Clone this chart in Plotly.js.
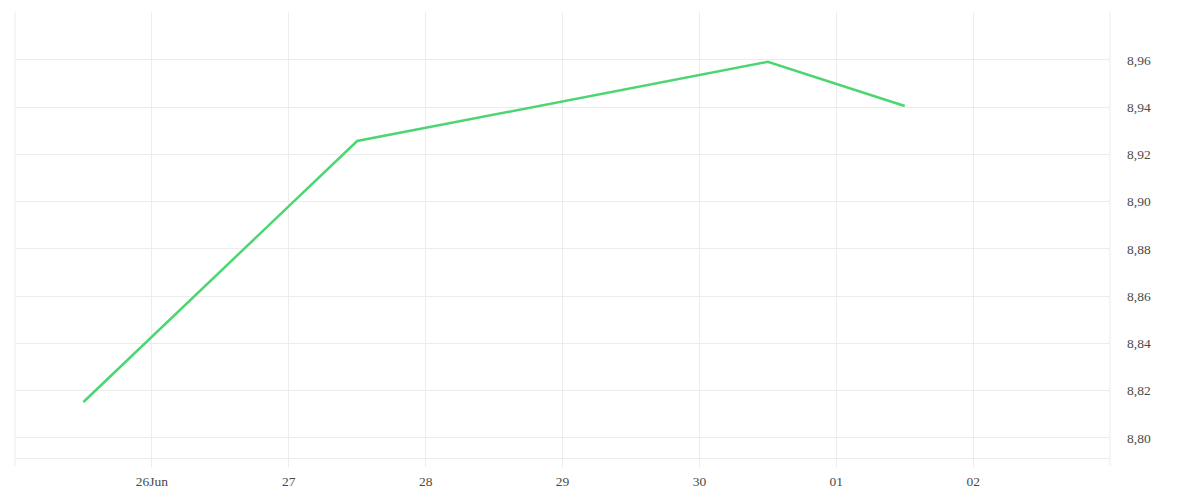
<!DOCTYPE html>
<html>
<head>
<meta charset="utf-8">
<script src="https://cdn.plot.ly/plotly-3.0.1.min.js"></script>
<style>html,body{margin:0;padding:0;background:#fff;}#chart{width:1200px;height:500px;}</style>
</head>
<body>
<div id="chart"></div>
<script>
const dates = ["2024-06-25 12:00", "2024-06-27 12:00", "2024-06-30 12:00", "2024-07-01 12:00"];
const values = [8.8152, 8.9257, 8.9592, 8.9405];
const xTickVals = ["2024-06-26", "2024-06-27", "2024-06-28", "2024-06-29", "2024-06-30", "2024-07-01", "2024-07-02"];
const xTickText = ["26Jun", "27", "28", "29", "30", "01", "02"];
const yTickVals = [8.80, 8.82, 8.84, 8.86, 8.88, 8.90, 8.92, 8.94, 8.96];
const yTickText = ["8,80", "8,82", "8,84", "8,86", "8,88", "8,90", "8,92", "8,94", "8,96"];

const gridColor = "#ececec";
const fontSpec = {family: "Liberation Serif", size: 13.5, color: "#4a4a4a"};

const trace = {
  x: dates, y: values, type: "scatter", mode: "lines",
  line: {color: "#4cd672", width: 2.5},
  hoverinfo: "x+y"
};

const layout = {
  width: 1200, height: 500,
  margin: {l: 15, r: 90, t: 12, b: 42},
  paper_bgcolor: "#fff", plot_bgcolor: "#fff",
  showlegend: false,
  font: fontSpec,
  xaxis: {
    type: "date",
    range: ["2024-06-25 00:00", "2024-07-03 00:00"],
    tickmode: "array", tickvals: xTickVals, ticktext: xTickText,
    showgrid: true, gridcolor: gridColor, gridwidth: 1,
    ticks: "outside", ticklen: 8, tickcolor: gridColor,
    ticklabelstandoff: 3,
    showline: true, linecolor: gridColor, linewidth: 1,
    zeroline: false, tickfont: fontSpec
  },
  yaxis: {
    side: "right",
    range: [8.7915, 8.9803],
    tickmode: "array", tickvals: yTickVals, ticktext: yTickText,
    showgrid: true, gridcolor: gridColor, gridwidth: 1,
    ticks: "", ticklabelstandoff: 16,
    showline: false, zeroline: false, tickfont: fontSpec
  },
  shapes: [
    {type: "line", xref: "paper", yref: "paper", x0: 0, x1: 0, y0: -0.018, y1: 1, line: {color: gridColor, width: 1}},
    {type: "line", xref: "paper", yref: "paper", x0: 1, x1: 1, y0: -0.018, y1: 1, line: {color: gridColor, width: 1}}
  ]
};

Plotly.newPlot("chart", [trace], layout, {displayModeBar: false, staticPlot: true});
</script>
</body>
</html>
